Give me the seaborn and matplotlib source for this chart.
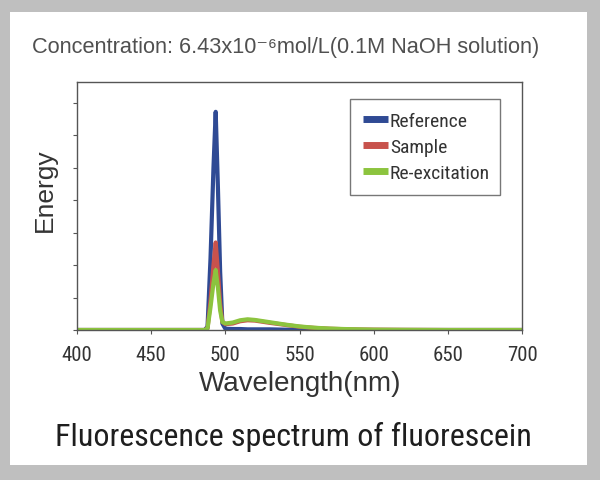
import numpy as np
import pandas as pd
import seaborn as sns
import matplotlib.pyplot as plt
from matplotlib.patches import Rectangle
from matplotlib.lines import Line2D

# values (energy in tick units)
wavelength = [400, 480, 486, 488, 490, 492, 493.5, 495, 496.5, 498, 500, 505, 510,
              515, 520, 530, 540, 550, 560, 570, 580, 590, 600, 620, 650, 700]
reference = [0, 0, 0, 0.1, 2.2, 5.0, 6.73, 4.4, 1.8, 0.2, 0.04, 0.03, 0.03,
             0.02, 0.02, 0.02, 0.01, 0.01, 0, 0, 0, 0, 0, 0, 0, 0]
sample = [0, 0, 0, 0.05, 0.9, 2.0, 2.7, 1.8, 0.8, 0.25, 0.18, 0.2, 0.27,
          0.3, 0.29, 0.22, 0.16, 0.1, 0.065, 0.04, 0.025, 0.015, 0.01, 0.004, 0, 0]
reexcitation = [0, 0, 0, 0.05, 0.7, 1.45, 1.85, 1.3, 0.6, 0.25, 0.2, 0.23, 0.3,
                0.33, 0.31, 0.24, 0.17, 0.11, 0.07, 0.045, 0.03, 0.02, 0.01, 0.005, 0, 0]
series = ['Reference', 'Sample', 'Re-excitation']
colors = ['#2f4a94', '#c8524c', '#8cc43e']

df = pd.DataFrame({
    'Wavelength': wavelength * 3,
    'Energy': reference + sample + reexcitation,
    'Series': [s for s in series for _ in wavelength],
})

sns.set_style('ticks')
narrow = ['Roboto Condensed', 'DejaVu Sans']
plain = ['Liberation Sans', 'DejaVu Sans']
plt.rcParams['font.family'] = plain

fig = plt.figure(figsize=(6, 4.81), dpi=100)
fig.patch.set_facecolor('#bfbfbf')
fig.patches.append(Rectangle((10 / 600, 15 / 481), 577 / 600, 453 / 481,
                             transform=fig.transFigure, facecolor='white',
                             edgecolor='none', zorder=-10))

ax = fig.add_axes([77 / 600, 150 / 481, 445 / 600, 248 / 481])
ax.set_facecolor('white')
sns.lineplot(data=df, x='Wavelength', y='Energy', hue='Series', hue_order=series,
             palette=colors, linewidth=3, sort=False, ax=ax, legend=False)

ax.set_xlim(400, 700)
ax.set_ylim(0, 7.65)
ax.set_xticks(range(400, 701, 50))
ax.set_yticks(range(0, 8))
ax.set_yticklabels([])
ax.set_xlabel('')
ax.set_ylabel('')
for sp in ax.spines.values():
    sp.set_visible(True)
    sp.set_color('#555555')
    sp.set_linewidth(1)
ax.tick_params(direction='out', length=3, width=0.8, color='#555555', labelsize=15,
               labelcolor='#333333', pad=8)
for lab in ax.get_xticklabels():
    lab.set_family(narrow)

# legend box stretched to the width it has in the picture
handles = [Line2D([0], [0], color=c, lw=5, solid_capstyle='butt') for c in colors]
leg = ax.legend(handles, series, loc='upper left', mode='expand', borderaxespad=0,
                bbox_to_anchor=(273 / 445, 0.5, 150 / 445, 231 / 248 - 0.5),
                frameon=True, fancybox=False, edgecolor='#555555',
                prop={'family': narrow, 'size': 14}, handlelength=1.3,
                handletextpad=0.1, borderpad=0.65, labelspacing=0.42)
leg.get_frame().set_linewidth(1)
for t in leg.get_texts():
    t.set_color('#333333')

fig.text(286 / 600, 1 - 48 / 481, 'Concentration: 6.43x10⁻⁶mol/L(0.1M NaOH solution)',
         ha='center', va='center', fontsize=15.7, color='#505050')
fig.text(45 / 600, 1 - 190 / 481, 'Energy', rotation=90, ha='center', va='center',
         fontsize=19, color='#333333')
fig.text(300 / 600, 1 - 384 / 481, 'Wavelength(nm)', ha='center', va='center',
         fontsize=20, color='#333333')
fig.text(293 / 600, 1 - 437 / 481, 'Fluorescence spectrum of fluorescein', ha='center',
         va='center', fontsize=23, color='#1e1e1e', family=narrow)

fig.savefig('out.png', dpi=100, facecolor=fig.get_facecolor())
